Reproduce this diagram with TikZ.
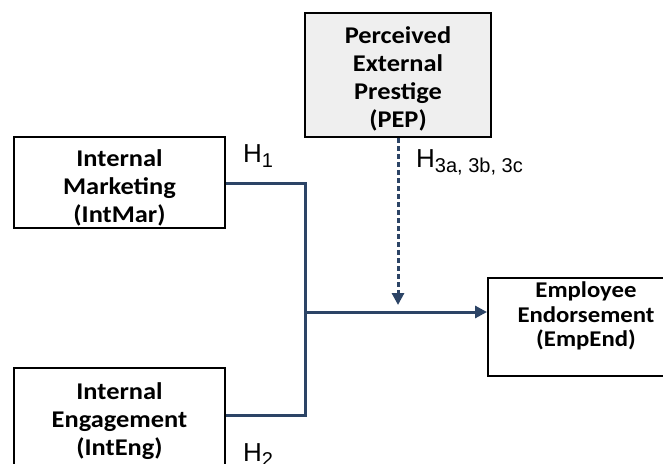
\documentclass[tikz,border=0pt]{standalone}
\usepackage{fontspec}
\setmainfont{Carlito}[FakeStretch=1.1]
\newfontfamily\hfont{Liberation Sans}
\usetikzlibrary{arrows.meta}
\definecolor{conn}{HTML}{2C4466}
\definecolor{pepfill}{HTML}{EFEFEF}
\newcommand{\hsub}[1]{\raisebox{-5pt}{\fontsize{20}{20}\selectfont #1}}
\tikzset{
  boxst/.style={draw=black, line width=2pt, rectangle, inner sep=0pt},
  txt/.style={align=center, font=\fontsize{24}{28}\selectfont\bfseries, inner sep=0pt},
  txtsmall/.style={align=center, font=\fontsize{22.5}{24.5}\selectfont\bfseries, inner sep=0pt},
  conline/.style={draw=conn, line width=3pt},
  tip/.style={-{Triangle[length=12pt,width=12pt]}},
  hlab/.style={font=\hfont\fontsize{26}{28}\selectfont, inner sep=0pt, anchor=base west},
}
\begin{document}
\begin{tikzpicture}[x=1pt,y=-1pt]
\useasboundingbox (0,0) rectangle (663,463);
\clip (0,0) rectangle (663,463);
% boxes
\node[boxst, fill=pepfill, minimum width=186pt, minimum height=124pt] (pep) at (398,75) {};
\node[txt] (pept) at (398,79) {Perceived\\External\\Prestige\\(PEP)};
\node[boxst, minimum width=211pt, minimum height=91pt] (im) at (119.5,182.5) {};
\node[txt] (imt) at (119.5,188) {Internal\\Marketing\\(IntMar)};
\node[boxst, minimum width=211pt, minimum height=102pt] (ie) at (119.5,419) {};
\node[txt] (iet) at (119.5,421) {Internal\\Engagement\\(IntEng)};
\node[boxst, minimum width=188pt, minimum height=98pt] (ee) at (582,327) {};
\node[txtsmall] (eet) at (586,316) {Employee\\Endorsement\\(EmpEnd)};
% junction coordinates
\coordinate (j1) at (305,183);
\coordinate (j2) at (305,415);
\coordinate (jm) at (305,312);
\coordinate (dt) at (398,305);
% connectors
\draw[conline] (im.east |- j1) -- (j1) -- (j2) -- (ie.east |- j2);
\draw[conline, tip] (jm) -- (ee.west |- jm);
\draw[conline, dash pattern=on 5pt off 3pt, tip] (pep.south) -- (dt);
% labels
\node[hlab] (h1) at (243,162) {H\hsub{1}};
\node[hlab] (h2) at (243,461) {H\hsub{2}};
\node[hlab] (h3) at (416,167) {H\hsub{3a, 3b, 3c}};
\end{tikzpicture}
\end{document}
